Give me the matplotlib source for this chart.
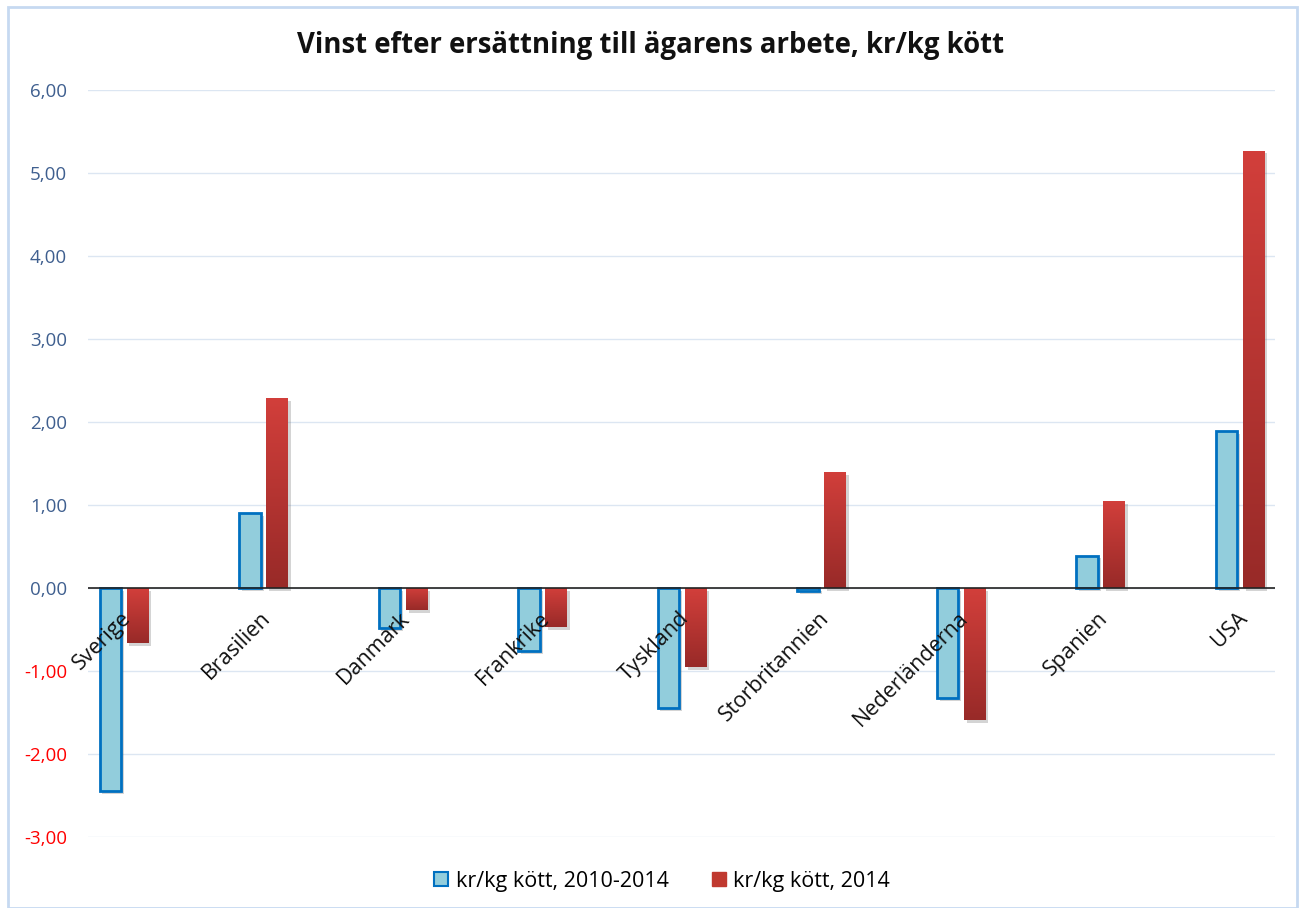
import matplotlib.pyplot as plt
import matplotlib.patheffects as pe
import numpy as np
from matplotlib.colors import LinearSegmentedColormap
from matplotlib.patches import Rectangle
from matplotlib.transforms import offset_copy

plt.rcParams["font.family"] = ["Open Sans", "DejaVu Sans"]

countries = ["Sverige", "Brasilien", "Danmark", "Frankrike", "Tyskland",
             "Storbritannien", "Nederländerna", "Spanien", "USA"]
avg_2010_2014 = [-2.45, 0.90, -0.48, -0.76, -1.45, -0.04, -1.33, 0.39, 1.89]
val_2014 = [-0.66, 2.29, -0.27, -0.47, -0.95, 1.40, -1.59, 1.05, 5.27]
series_names = ["kr/kg kött, 2010-2014", "kr/kg kött, 2014"]
title = "Vinst efter ersättning till ägarens arbete, kr/kg kött"
yticks = [-3, -2, -1, 0, 1, 2, 3, 4, 5, 6]

BLUE_FACE = "#92CDDC"
BLUE_EDGE = "#0070C0"
RED_TOP = "#D23F3B"
RED_BOTTOM = "#982A28"
POS_TICK = "#3F5F8F"
NEG_TICK = "#FF0000"
GRID = "#DCE6F2"

red_grad = LinearSegmentedColormap.from_list("redgrad", [RED_BOTTOM, RED_TOP])

fig = plt.figure(figsize=(13, 9.08), dpi=100)
fig.patches.append(Rectangle((8 / 1300, 0), 1289 / 1300, 1 - 7 / 908,
                             transform=fig.transFigure, fill=False,
                             edgecolor="#C6D9F1", linewidth=2, zorder=0))
ax = fig.add_axes([88 / 1300, 1 - 837 / 908, 1187 / 1300, 747 / 908])

x = np.arange(len(countries))
w = 0.155
off = 0.097
shadow = [pe.SimplePatchShadow(offset=(2, -2), alpha=0.25, shadow_rgbFace="#555555"), pe.Normal()]

blue_bars = ax.bar(x - off, avg_2010_2014, width=w, color=BLUE_FACE,
                   edgecolor=BLUE_EDGE, linewidth=2, zorder=3,
                   label=series_names[0])
for b in blue_bars:
    b.set_path_effects(shadow)

red_bars = ax.bar(x + off, val_2014, width=w, color=RED_TOP, linewidth=0,
                  zorder=3, label=series_names[1])
grad = np.linspace(0, 1, 256).reshape(-1, 1)
for b in red_bars:
    b.set_path_effects(shadow)
    x0, y0 = b.get_x(), b.get_y()
    h = b.get_height()
    lo, hi = min(y0, y0 + h), max(y0, y0 + h)
    im = ax.imshow(grad, cmap=red_grad, origin="lower", aspect="auto",
                   extent=(x0, x0 + b.get_width(), lo, hi), zorder=4)
    im.set_clip_path(b)

ax.set_xlim(-0.258, 8.25)
ax.set_ylim(-3, 6)
ax.set_yticks(yticks)
ax.set_yticklabels([f"{v:.2f}".replace(".", ",") for v in yticks], fontsize=13.5)
for lab, v in zip(ax.get_yticklabels(), yticks):
    lab.set_color(NEG_TICK if v < 0 else POS_TICK)
ax.tick_params(axis="y", length=0, pad=15)
ax.set_xticks([])
ax.grid(True, axis="y", color=GRID, linewidth=1)
ax.set_axisbelow(True)
for s in ax.spines.values():
    s.set_visible(False)
ax.axhline(0, color="#222222", linewidth=1.2, zorder=5)

for i, name in enumerate(countries):
    tr = offset_copy(ax.transData, fig=fig, x=4, y=-27, units="dots")
    ax.text(i, 0, name, rotation=45, rotation_mode="anchor", ha="right",
            va="center", fontsize=15.5, color="#111111", transform=tr, zorder=6)

fig.text(651 / 1300, 1 - 45 / 908, title, ha="center", va="center",
         fontsize=19.8, fontweight="bold", color="#111111")

handles = [Rectangle((0, 0), 1, 1, facecolor=BLUE_FACE, edgecolor=BLUE_EDGE, linewidth=1.5),
           Rectangle((0, 0), 1, 1, facecolor="#C0392F", edgecolor="#C0392F")]
fig.legend(handles, series_names, loc="center", bbox_to_anchor=(662 / 1300, 1 - 881 / 908),
           ncol=2, frameon=False, fontsize=15.5, handlelength=0.65, handleheight=0.65,
           handletextpad=0.35, columnspacing=2.0)

fig.savefig("out.png", dpi=100)
